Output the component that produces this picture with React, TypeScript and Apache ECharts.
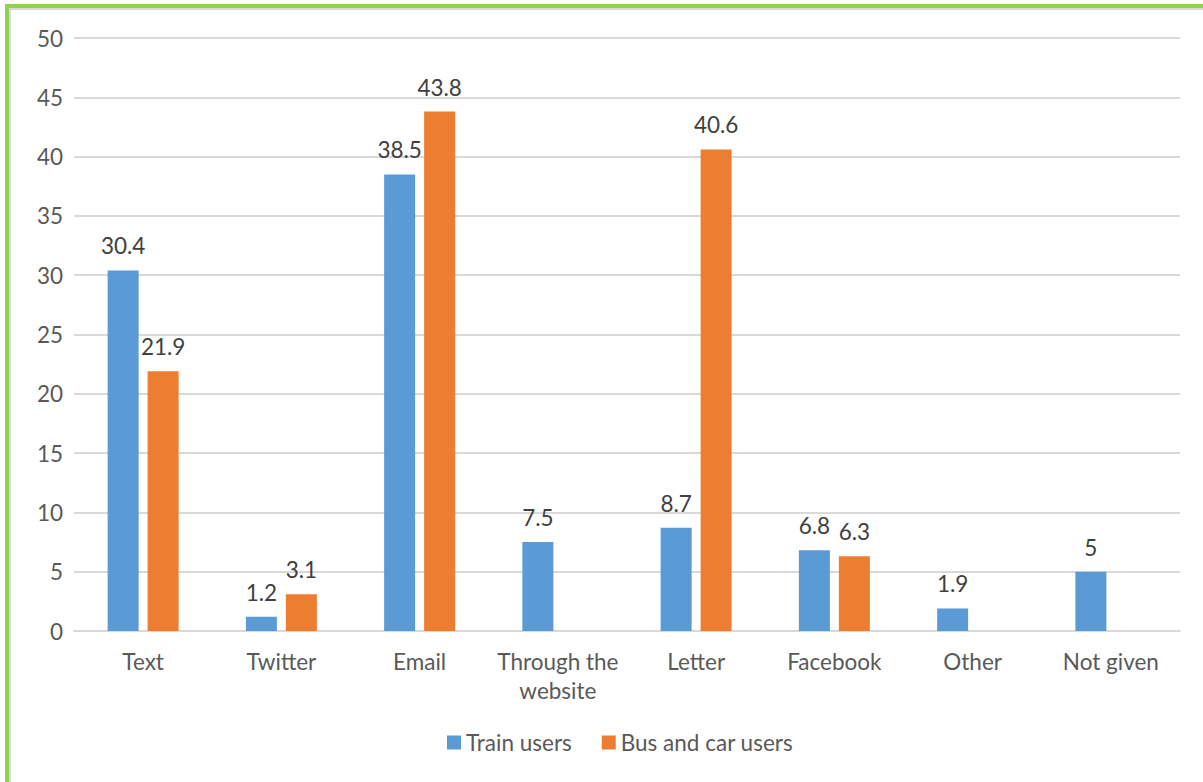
import React, { useEffect, useRef } from "react";
import * as echarts from "echarts";

const categories = [
  "Text",
  "Twitter",
  "Email",
  "Through the website",
  "Letter",
  "Facebook",
  "Other",
  "Not given",
];
const trainUsers = [30.4, 1.2, 38.5, 7.5, 8.7, 6.8, 1.9, 5];
const busCarUsers: (number | null)[] = [21.9, 3.1, 43.8, null, 40.6, 6.3, null, null];
const yTicks = { min: 0, max: 50, interval: 5 };

const FONT = "Lato, 'Open Sans', sans-serif";
const TEXT_COLOR = "#595959";
const FS = 22.5;

export default function App() {
  const ref = useRef<HTMLDivElement>(null);

  useEffect(() => {
    if (!ref.current) return;
    const chart = echarts.init(ref.current, undefined, { renderer: "svg" });
    const label = {
      show: true,
      position: "top" as const,
      distance: 13,
      color: "#404040",
      fontSize: FS,
      fontFamily: FONT,
    };
    chart.setOption({
      animation: false,
      backgroundColor: "#ffffff",
      textStyle: { fontFamily: FONT },
      grid: { left: 74, right: 23, top: 38, bottom: 151, containLabel: false },
      legend: {
        bottom: 23,
        left: 442,
        itemWidth: 14,
        itemHeight: 14,
        itemGap: 30,
        icon: "rect",
        textStyle: { color: TEXT_COLOR, fontSize: FS, fontFamily: FONT },
        data: ["Train users", "Bus and car users"],
      },
      xAxis: {
        type: "category",
        data: categories,
        axisLine: { lineStyle: { color: "#d9d9d9", width: 2 } },
        axisTick: { show: false },
        axisLabel: {
          color: TEXT_COLOR,
          fontSize: FS,
          fontFamily: FONT,
          margin: 16,
          lineHeight: 29,
          interval: 0,
          formatter: (v: string) => (v === "Through the website" ? "Through the\nwebsite" : v),
        },
      },
      yAxis: {
        type: "value",
        min: yTicks.min,
        max: yTicks.max,
        interval: yTicks.interval,
        axisLine: { show: false },
        axisTick: { show: false },
        splitLine: { lineStyle: { color: "#d9d9d9", width: 2 } },
        axisLabel: { color: TEXT_COLOR, fontSize: FS, fontFamily: FONT, margin: 11 },
      },
      series: [
        {
          name: "Train users",
          type: "bar",
          data: trainUsers,
          barWidth: 31,
          barGap: "29%",
          itemStyle: { color: "#5B9BD5" },
          label,
        },
        {
          name: "Bus and car users",
          type: "bar",
          data: busCarUsers,
          barWidth: 31,
          itemStyle: { color: "#ED7D31" },
          label,
        },
      ],
      graphic: [
        { type: "rect", shape: { x: 5, y: 4, width: 1198, height: 4 }, style: { fill: "#92D050" }, silent: true },
        { type: "rect", shape: { x: 5, y: 4, width: 4, height: 778 }, style: { fill: "#92D050" }, silent: true },
        { type: "rect", shape: { x: 9, y: 8, width: 1194, height: 2 }, style: { fill: "#d9d9d9" }, silent: true },
        { type: "rect", shape: { x: 9, y: 8, width: 2, height: 774 }, style: { fill: "#d9d9d9" }, silent: true },
      ],
    });
    return () => chart.dispose();
  }, []);

  return (
    <div
      ref={ref}
      style={{ position: "fixed", left: 0, top: 0, width: 1203, height: 782 }}
    />
  );
}
